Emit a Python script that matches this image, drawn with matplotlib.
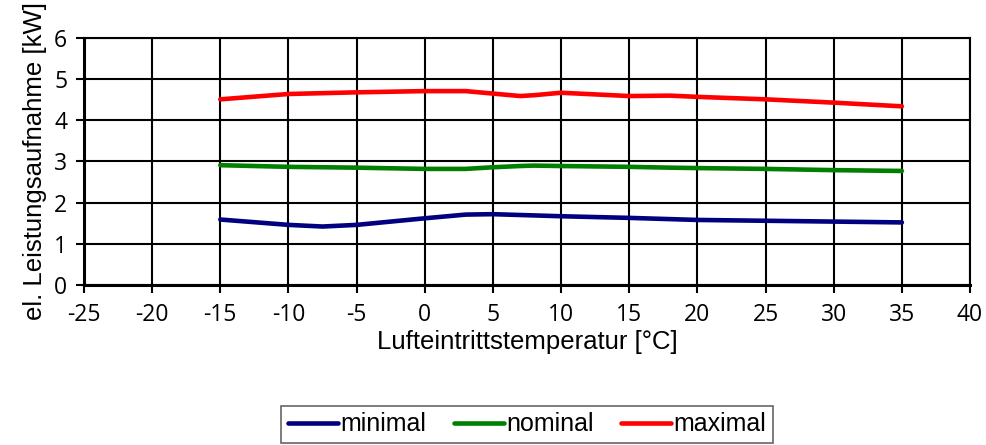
import matplotlib.pyplot as plt

# Lufteintrittstemperatur [°C]
temp = [-15, -10, -7.5, -5, 0, 3, 5, 7, 8, 10, 15, 18, 20, 25, 30, 35]

# el. Leistungsaufnahme [kW]
minimal = [1.59, 1.46, 1.42, 1.46, 1.62, 1.71, 1.72, 1.70, 1.69, 1.67, 1.63, 1.60, 1.58, 1.56, 1.54, 1.52]
nominal = [2.91, 2.87, 2.86, 2.85, 2.82, 2.82, 2.86, 2.89, 2.90, 2.89, 2.87, 2.85, 2.84, 2.82, 2.79, 2.77]
maximal = [4.51, 4.64, 4.66, 4.68, 4.71, 4.71, 4.65, 4.59, 4.61, 4.67, 4.59, 4.60, 4.57, 4.51, 4.43, 4.34]

xticks = list(range(-25, 41, 5))
yticks = list(range(0, 7))

fig = plt.figure(figsize=(9.87, 4.45), dpi=100)
ax = fig.add_axes([0.0851, 0.3596, 0.8977, 0.555])

ax.plot(temp, minimal, color='#000080', lw=3.3, label='minimal', solid_capstyle='round', solid_joinstyle='round')
ax.plot(temp, nominal, color='#008000', lw=3.3, label='nominal', solid_capstyle='round', solid_joinstyle='round')
ax.plot(temp, maximal, color='#ff0000', lw=3.3, label='maximal', solid_capstyle='round', solid_joinstyle='round')

ax.set_xlim(-25, 40)
ax.set_ylim(0, 6)
ax.set_xticks(xticks)
ax.set_yticks(yticks)
ax.set_xticklabels([str(t) for t in xticks], fontname='Open Sans', fontsize=16.5)
ax.set_yticklabels([str(t) for t in yticks], fontname='Open Sans', fontsize=16.5)
ax.grid(True, color='black', lw=1.5)
ax.set_axisbelow(True)
ax.tick_params(axis='x', direction='out', length=6, width=1.5, color='black', pad=7)
ax.tick_params(axis='y', direction='out', length=6, width=1.5, color='black', pad=6)
for side in ['top', 'right']:
    ax.spines[side].set_linewidth(1.5)
for side in ['left', 'bottom']:
    ax.spines[side].set_linewidth(2.2)

ax.set_xlabel('Lufteintrittstemperatur [°C]', fontname='Liberation Sans', fontsize=18.5, labelpad=2)
ax.set_ylabel('el. Leistungsaufnahme [kW]', fontname='Liberation Sans', fontsize=18.5, labelpad=5)

leg = ax.legend(loc='upper center', bbox_to_anchor=(0.5, -0.44), ncol=3, frameon=True,
                fancybox=False, edgecolor='#404040', handlelength=2.0, handletextpad=0.1,
                columnspacing=1.1, borderpad=0.25, prop={'family': 'Liberation Sans', 'size': 18})
leg.get_frame().set_linewidth(1.2)

fig.savefig('out.png', dpi=100)
